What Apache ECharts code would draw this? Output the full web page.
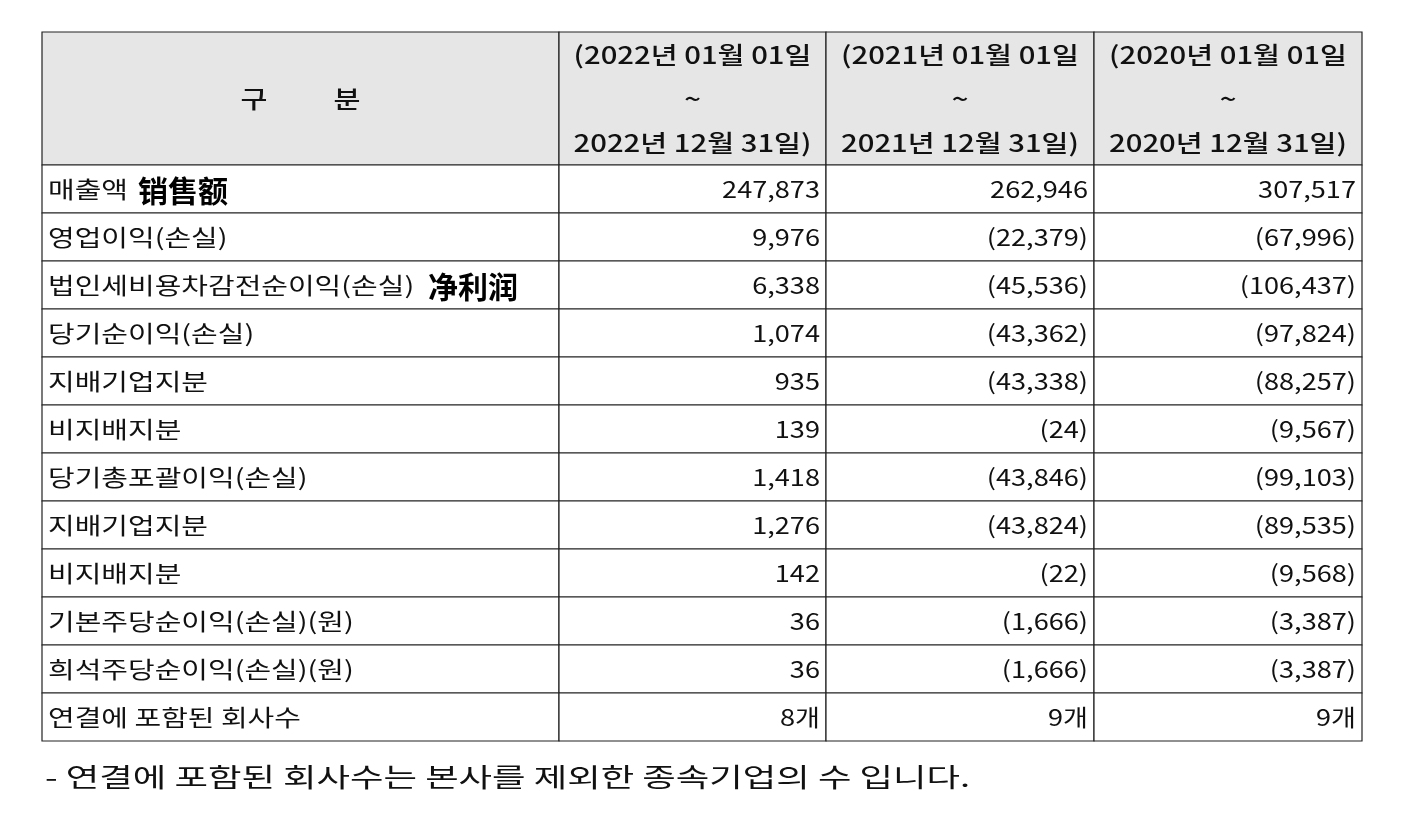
<!DOCTYPE html>
<html>
<head>
<meta charset="utf-8">
<title></title>
<script src="https://cdn.jsdelivr.net/npm/echarts@6/dist/echarts.min.js"></script>
</head>
<body style="margin:0;background:#fff;">
<div id="container" style="width:1403px;height:816px;"></div>
<script type="text/javascript">
var periods = [
	['(2022년 01월 01일', '~', '2022년 12월 31일)'],
	['(2021년 01월 01일', '~', '2021년 12월 31일)'],
	['(2020년 01월 01일', '~', '2020년 12월 31일)']
];
var rowLabels = ['매출액', '영업이익(손실)', '법인세비용차감전순이익(손실)', '당기순이익(손실)', '지배기업지분', '비지배지분',
	'당기총포괄이익(손실)', '지배기업지분', '비지배지분', '기본주당순이익(손실)(원)', '희석주당순이익(손실)(원)', '연결에 포함된 회사수'];
var notes = {0: '销售额', 2: '净利润'};
var y2022 = ['247,873', '9,976', '6,338', '1,074', '935', '139', '1,418', '1,276', '142', '36', '36', '8개'];
var y2021 = ['262,946', '(22,379)', '(45,536)', '(43,362)', '(43,338)', '(24)', '(43,846)', '(43,824)', '(22)', '(1,666)', '(1,666)', '9개'];
var y2020 = ['307,517', '(67,996)', '(106,437)', '(97,824)', '(88,257)', '(9,567)', '(99,103)', '(89,535)', '(9,568)', '(3,387)', '(3,387)', '9개'];
var footnote = '- 연결에 포함된 회사수는 본사를 제외한 종속기업의 수 입니다.';

// column edges / row edges in table units
var colEdges = [0, 517, 784, 1052, 1320];
var headerH = 133, rowH = 48;
function rowTop(r) { return r < 0 ? 0 : headerH + r * rowH; }
function rowBot(r) { return r < 0 ? headerH : headerH + (r + 1) * rowH; }

var font = '"Noto Sans CJK KR", sans-serif';
var cells = [];
cells.push([0, -1, '구          분', 'center']);
for (var c = 0; c < 3; c++) cells.push([c + 1, -1, periods[c].join('\n'), 'center']);
var cols = [y2022, y2021, y2020];
for (var r = 0; r < rowLabels.length; r++) {
	cells.push([0, r, rowLabels[r], 'left']);
	for (var k = 0; k < 3; k++) cells.push([k + 1, r, cols[k][r], 'right']);
}

var chart = echarts.init(document.getElementById('container'));
chart.setOption({
	animation: false,
	grid: {left: 42, top: 32, width: 1320, height: headerH + rowH * rowLabels.length},
	xAxis: {type: 'value', min: 0, max: 1320, show: false},
	yAxis: {type: 'value', min: 0, max: headerH + rowH * rowLabels.length, inverse: true, show: false},
	graphic: [{type: 'text', x: 45, y: 777, scaleX: 1.4,
		style: {x: 0, y: 0, text: footnote, verticalAlign: 'middle', font: '26px ' + font, fill: '#111'}}],
	series: [{
		type: 'custom',
		data: cells,
		renderItem: function (params, api) {
			var d = cells[params.dataIndex];
			var p0 = api.coord([colEdges[d[0]], rowTop(d[1])]);
			var p1 = api.coord([colEdges[d[0] + 1], rowBot(d[1])]);
			var w = p1[0] - p0[0], h = p1[1] - p0[1];
			var tx = d[3] === 'left' ? p0[0] + 6 : d[3] === 'right' ? p1[0] - 6 : p0[0] + w / 2;
			var header = d[1] < 0;
			var children = [
				{type: 'rect', shape: {x: p0[0], y: p0[1], width: w, height: h},
					style: {fill: header ? '#e6e6e6' : '#fff', stroke: '#222', lineWidth: 1.2}},
				{type: 'text', x: tx, y: p0[1] + h / 2, scaleX: header ? 1.22 : (d[0] === 0 ? 1.26 : 1.18),
					style: {x: 0, y: 0, text: d[2], align: d[3], verticalAlign: 'middle',
					font: (header ? '500 24px ' : '23px ') + font, fill: '#111', lineHeight: 44}}
			];
			if (d[0] === 0 && notes[d[1]]) {
				var offs = {0: 96, 2: 386};
				children.push({type: 'text', style: {x: p0[0] + offs[d[1]], y: p0[1] + h / 2 + 2, text: notes[d[1]],
					verticalAlign: 'middle', font: 'bold 30px "Noto Sans CJK SC", sans-serif', fill: '#000'}});
			}
			return {type: 'group', children: children};
		}
	}]
});
</script>
</body>
</html>
